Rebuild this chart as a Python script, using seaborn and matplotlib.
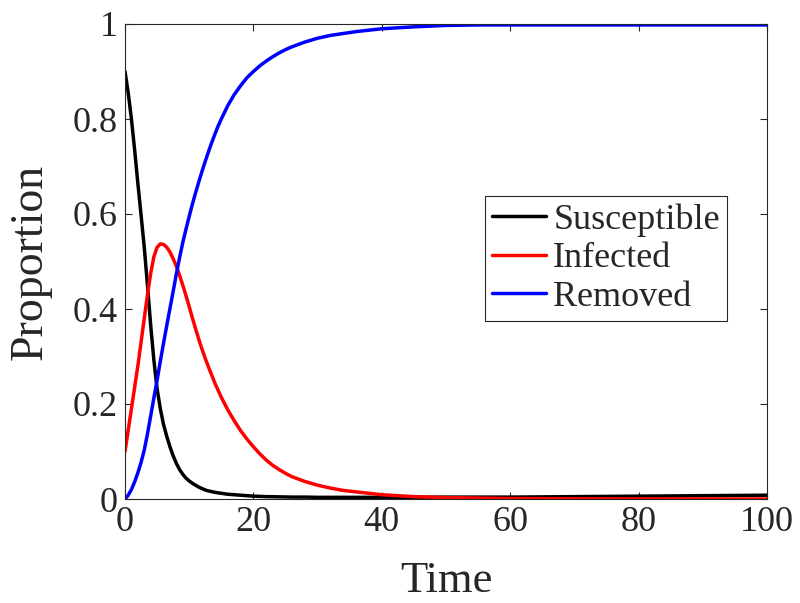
import numpy as np
import pandas as pd
import matplotlib
matplotlib.use("Agg")
import matplotlib.pyplot as plt
import seaborn as sns

# SIR compartment proportions over time
time = [0, 0.5, 1, 1.5, 2, 2.5, 3, 3.5, 4, 4.5, 5, 5.5, 6, 6.5, 7, 7.5, 8, 8.5, 9, 9.5,
        10, 10.5, 11, 11.5, 12, 12.5, 13, 13.5, 14, 14.5, 15,
        16, 17, 18, 19, 20, 21, 22, 23, 24, 25, 26, 27, 28, 29, 30,
        32, 34, 36, 38, 40, 45, 50, 55, 60, 70, 80, 90, 100]
susceptible = [0.900, 0.855, 0.800, 0.735, 0.665, 0.598, 0.530, 0.450, 0.366, 0.292,
               0.232, 0.190, 0.157, 0.132, 0.110, 0.091, 0.075, 0.062, 0.052, 0.044,
               0.038, 0.033, 0.029, 0.025, 0.022, 0.019, 0.017, 0.0155, 0.014, 0.013,
               0.012,
               0.010, 0.009, 0.008, 0.007, 0.006, 0.0055, 0.005, 0.0048, 0.0045, 0.0043,
               0.004, 0.004, 0.004, 0.0038, 0.0035,
               0.0035, 0.0035, 0.0035, 0.0035, 0.0035, 0.0035, 0.004, 0.004, 0.004,
               0.005, 0.006, 0.007, 0.008]
infected = [0.100, 0.145, 0.190, 0.235, 0.280, 0.330, 0.380, 0.430, 0.475, 0.510,
            0.530, 0.537, 0.536, 0.530, 0.520, 0.506, 0.490, 0.471, 0.450, 0.428,
            0.405, 0.381, 0.358, 0.336, 0.315, 0.296, 0.278, 0.261, 0.244, 0.229,
            0.214,
            0.188, 0.165, 0.144, 0.126, 0.110, 0.095, 0.082, 0.071, 0.062, 0.054,
            0.047, 0.042, 0.037, 0.033, 0.029,
            0.023, 0.018, 0.015, 0.012, 0.009, 0.005, 0.003, 0.002, 0.001,
            0.0005, 0.0002, 0.0001, 0.0]
removed = [0.000, 0.008, 0.020, 0.036, 0.055, 0.077, 0.103, 0.137, 0.175, 0.213,
           0.250, 0.290, 0.328, 0.365, 0.401, 0.437, 0.474, 0.508, 0.540, 0.568,
           0.595, 0.621, 0.645, 0.668, 0.690, 0.711, 0.731, 0.750, 0.768, 0.785,
           0.800,
           0.828, 0.851, 0.870, 0.887, 0.900, 0.912, 0.922, 0.931, 0.939, 0.946,
           0.952, 0.957, 0.962, 0.966, 0.970,
           0.976, 0.980, 0.984, 0.987, 0.990, 0.994, 0.997, 0.998, 0.998,
           0.998, 0.998, 0.998, 0.998]

series_names = ["Susceptible", "Infected", "Removed"]
series_colors = ["#000000", "#ff0000", "#0000ff"]
x_ticks = [0, 20, 40, 60, 80, 100]
y_ticks = [0, 0.2, 0.4, 0.6, 0.8, 1]
y_tick_labels = ["0", "0.2", "0.4", "0.6", "0.8", "1"]

df = pd.DataFrame({
    "Time": time * 3,
    "Proportion": susceptible + infected + removed,
    "Compartment": [n for n in series_names for _ in time],
})

sns.set_style("ticks")
plt.rcParams["font.family"] = ["Liberation Serif", "DejaVu Serif"]

fig = plt.figure(figsize=(8.0, 6.03), dpi=100)
ax = fig.add_axes([125 / 800, 1 - 499 / 603, (767 - 125) / 800, (499 - 24) / 603])

sns.lineplot(data=df, x="Time", y="Proportion", hue="Compartment",
             hue_order=series_names, palette=series_colors,
             linewidth=2.5, ax=ax, legend=True, sort=True)

ax.set_xlim(0, 100)
ax.set_ylim(0, 1)
ax.set_xticks(x_ticks)
ax.set_xticklabels([str(v) for v in x_ticks])
ax.set_yticks(y_ticks)
ax.set_yticklabels(y_tick_labels)

text_color = "#262626"
for side in ["top", "right", "bottom", "left"]:
    ax.spines[side].set_visible(True)
    ax.spines[side].set_color(text_color)
    ax.spines[side].set_linewidth(0.8)
ax.tick_params(direction="in", length=5, width=0.8, colors=text_color,
               labelsize=26, top=True, right=True, pad=5)
ax.set_xlabel("Time", fontsize=32, color=text_color)
ax.set_ylabel("Proportion", fontsize=33, color=text_color)
ax.xaxis.set_label_coords(0.5, (499 - 561) / 475)
ax.yaxis.set_label_coords((52 - 125) / 642, 0.5)

leg = ax.legend(loc="upper right", bbox_to_anchor=(727 / 800, 1 - 196 / 603),
                bbox_transform=fig.transFigure, fontsize=26, frameon=True,
                fancybox=False, edgecolor=text_color, framealpha=1,
                handlelength=1.5, handletextpad=0.2, labelspacing=0.15,
                borderpad=0.2, borderaxespad=0)
leg.get_frame().set_linewidth(0.8)
for line in leg.get_lines():
    line.set_linewidth(2.5)

fig.savefig("out.png", dpi=100)
